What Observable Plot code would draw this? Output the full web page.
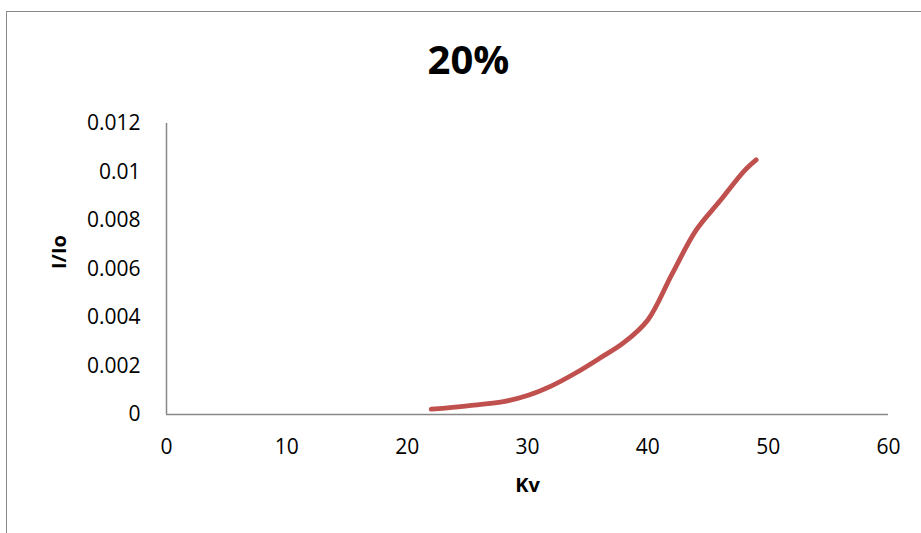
<!DOCTYPE html>
<html>
<head>
<meta charset="utf-8">
<script src="https://cdn.jsdelivr.net/npm/d3@7"></script>
<script src="https://cdn.jsdelivr.net/npm/@observablehq/plot@0.6"></script>
<style>
  html, body { margin: 0; padding: 0; background: #fff; overflow: hidden; }
  #wrap { position: relative; width: 921px; height: 533px; overflow: hidden; }
  #border { position: absolute; left: 6px; top: 11px; width: 1000px; height: 1000px; border: 1.5px solid #8a8a8a; box-sizing: border-box; pointer-events: none; }
  #chart { position: absolute; left: 0; top: 0; }
</style>
</head>
<body>
<div id="wrap"><div id="chart"></div><div id="border"></div></div>
<script>
const title = "20%";
const xLabel = "Kv";
const yLabel = "I/Io";
const kv = [22, 25, 28, 30, 32, 34, 36, 38, 40, 42, 44, 46, 48, 49];
const ratio = [0.00022, 0.00036, 0.00053, 0.00078, 0.00118, 0.00171, 0.00232, 0.00296, 0.0039, 0.00578, 0.00759, 0.00881, 0.01004, 0.0105];
const xTicks = [0, 10, 20, 30, 40, 50, 60];
const yTicks = [0, 0.002, 0.004, 0.006, 0.008, 0.01, 0.012];

const data = kv.map((k, i) => ({kv: k, v: ratio[i]}));
const font = "'Open Sans', 'Liberation Sans', sans-serif";

const chart = Plot.plot({
  width: 921,
  height: 533,
  marginLeft: 166,
  marginRight: 33,
  marginTop: 123,
  marginBottom: 119,
  style: {fontFamily: font, fontSize: "21px", color: "#000", background: "transparent"},
  x: {domain: [0, 60]},
  y: {domain: [0, 0.012]},
  marks: [
    Plot.axisX({ticks: xTicks, tickSize: 0, tickPadding: 25, label: null, fontSize: 21}),
    Plot.axisY({ticks: yTicks, tickSize: 0, tickPadding: 26, label: null, fontSize: 21,
      tickFormat: d => String(+d.toFixed(3))}),
    Plot.ruleY([0], {x1: 0, x2: 60, stroke: "#888", strokeWidth: 1.5}),
    Plot.ruleX([0], {y1: 0, y2: 0.012, stroke: "#888", strokeWidth: 1.5}),
    Plot.line(data, {x: "kv", y: "v", curve: "catmull-rom", stroke: "#C0504D", strokeWidth: 4.8, strokeLinecap: "round", strokeLinejoin: "round"}),
    Plot.text([title], {frameAnchor: "top", dx: -59, dy: -62 - 16, fontSize: 40, fontWeight: "bold", fill: "#000"}),
    Plot.text([xLabel], {frameAnchor: "bottom", dy: 77, fontSize: 20, fontWeight: "bold", fill: "#000"}),
    Plot.text([yLabel], {frameAnchor: "left", dx: -107, rotate: -90, fontSize: 20, fontWeight: "bold", fill: "#000"})
  ]
});
document.getElementById("chart").appendChild(chart);
</script>
</body>
</html>
